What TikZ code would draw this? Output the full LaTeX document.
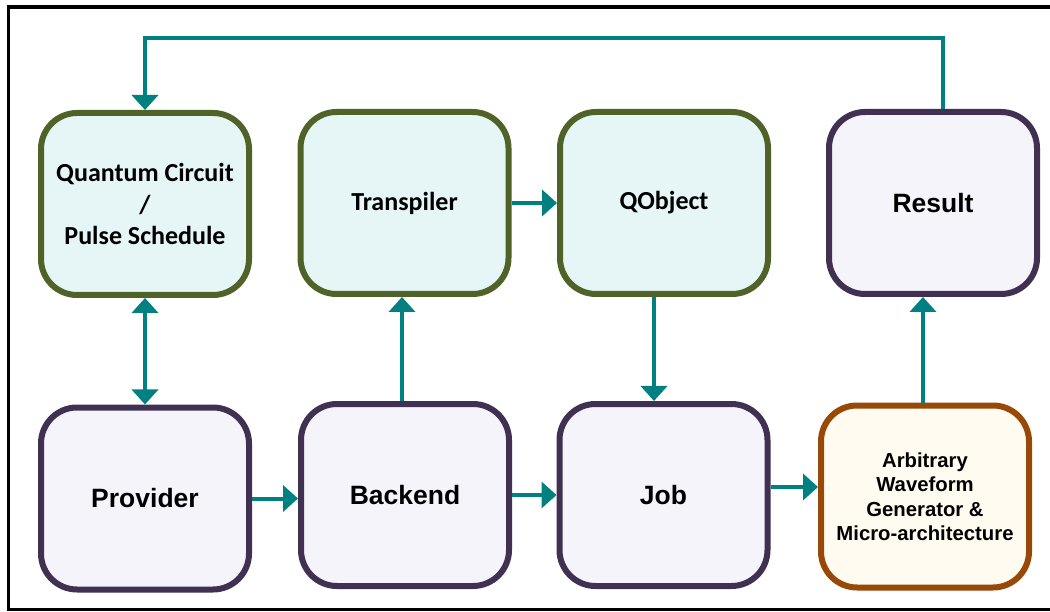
\documentclass[tikz,border=0pt]{standalone}
\usepackage{fontspec}
\setmainfont{Carlito}
\newfontfamily\arialfont{Liberation Sans}
\usetikzlibrary{arrows.meta}
\definecolor{flowteal}{RGB}{0,128,128}
\definecolor{olivedraw}{RGB}{79,98,40}
\definecolor{cyanfill}{RGB}{230,245,245}
\definecolor{plumdraw}{RGB}{64,49,82}
\definecolor{lavfill}{RGB}{246,244,251}
\definecolor{rustdraw}{RGB}{152,72,7}
\definecolor{creamfill}{RGB}{255,251,240}
\tikzset{
  block/.style={rounded corners=36pt, line width=6pt, minimum width=208pt,
    minimum height=182pt, align=center, inner sep=0pt, text=black},
  softblock/.style={block, draw=olivedraw, fill=cyanfill,
    font=\bfseries\fontsize{26}{31.5}\selectfont},
  hardblock/.style={block, draw=plumdraw, fill=lavfill,
    font=\arialfont\bfseries\fontsize{26.5}{30}\selectfont},
  awgblock/.style={block, draw=rustdraw, fill=creamfill,
    font=\arialfont\bfseries\fontsize{20.3}{24.5}\selectfont},
  tiphead/.tip={Triangle[width=26pt,length=15pt]},
  flow/.style={draw=flowteal, line width=4pt, -tiphead},
  flowboth/.style={flow, tiphead-tiphead}
}
\begin{document}
\begin{tikzpicture}[x=1pt,y=-1pt]
\useasboundingbox (0,0) rectangle (1050,612);
\fill[white] (0,0) rectangle (1050,612);
% outer frame, open past the right edge
\draw[line width=3.5pt] (8.5,7) rectangle (1065,609.5);

% upper row
\node[softblock] (qc)  at (145,204)   {Quantum Circuit\\/\\Pulse Schedule};
\node[softblock] (tr)  at (404.5,203) {Transpiler};
\node[softblock] (qo)  at (664,203)   {QObject};
\node[hardblock] (res) at (933,203)   {Result};
% lower row
\node[hardblock] (prov) at (145,498.5) {Provider};
\node[hardblock] (be)   at (405,495)   {Backend};
\node[hardblock] (job)  at (663.5,495) {Job};
\node[awgblock]  (awg)  at (925,496.5) {Arbitrary\\Waveform\\Generator \&\\Micro-architecture};

% connectors
\coordinate (loop) at (0,38);
\draw[flow] ([xshift=10pt]res.north) |- (qc.north |- loop) -- (qc.north);
\draw[flowboth] (qc.south) -- (prov.north);
\draw[flow] (prov.east) -- (prov.east -| be.west);
\draw[flow] (be.east) -- (be.east -| job.west);
\draw[flow] ([yshift=8pt]job.east) -- ([yshift=8pt]job.east -| awg.west);
\draw[flow] ([xshift=-3pt]be.north) -- ([xshift=-3pt]be.north |- tr.south);
\draw[flow] (tr.east) -- (tr.east -| qo.west);
\draw[flow] ([xshift=-10pt]qo.south) -- ([xshift=-10pt]qo.south |- job.north);
\draw[flow] ([xshift=-2pt]awg.north) -- ([xshift=-2pt]awg.north |- res.south);
\end{tikzpicture}
\end{document}
